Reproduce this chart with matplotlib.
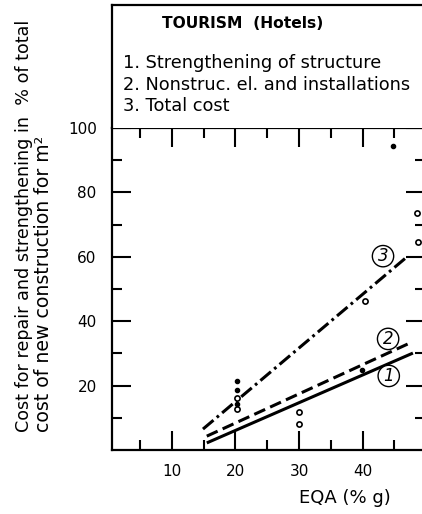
import matplotlib
matplotlib.use("Agg")
import matplotlib.pyplot as plt

plt.rcParams.update({
    "font.family": ["DejaVu Sans"],
    "font.size": 12,
})

# Fitted lines (EQA in % g, cost in % of new construction)
line1_x = [15.5, 47.9]
line1_y = [2.2, 30.1]
line2_x = [15.5, 47.4]
line2_y = [4.3, 33.2]
line3_x = [14.9, 47.1]
line3_y = [6.5, 60.2]

# Observed points
open_x = [20.2, 20.2, 30.0, 30.0, 40.3, 48.6, 48.7]
open_y = [16.1, 12.7, 11.8, 8.1, 46.3, 73.6, 64.6]
dot_x = [20.2, 20.2, 20.2, 39.9, 44.7]
dot_y = [21.4, 18.6, 14.3, 24.8, 94.5]

labels = ["1", "2", "3"]
label_x = [44.1, 44.0, 43.2]
label_y = [23.0, 34.5, 60.2]

legend_lines = ["1. Strengthening of structure",
                "2. Nonstruc. el. and installations",
                "3. Total cost"]

W, H = 422, 514
fig = plt.figure(figsize=(W / 100, H / 100), dpi=100)

left, right = 112, 425
ax = fig.add_axes([left / W, (H - 450) / H, (right - left) / W, 322 / H])
hdr = fig.add_axes([left / W, (H - 128) / H, (right - left) / W, 123 / H])

lw = 2.2
ax.plot(line1_x, line1_y, color="black", lw=lw, solid_capstyle="butt")
ax.plot(line2_x, line2_y, color="black", lw=lw, ls=(0, (3.9, 1.8)))
ax.plot(line3_x, line3_y, color="black", lw=lw, ls=(0, (4.5, 1.4, 0.9, 1.4)))

ax.scatter(open_x, open_y, s=14, facecolor="white", edgecolor="black",
           linewidth=1.2, zorder=3)
ax.scatter(dot_x, dot_y, s=9, color="black", zorder=3)

for t, x, y in zip(labels, label_x, label_y):
    ax.text(x, y, t, ha="center", va="center", fontsize=12, style="italic",
            bbox=dict(boxstyle="circle,pad=0.1", fc="white", ec="black", lw=1.0))

ax.set_xlim(0.6, 49.8)
ax.set_ylim(0, 100)
ax.set_xticks([10, 20, 30, 40])
ax.set_xticks([5, 15, 25, 35, 45], minor=True)
ax.set_yticks([20, 40, 60, 80, 100])
ax.set_yticks([10, 30, 50, 70, 90], minor=True)
ax.tick_params(which="both", direction="in", top=True, right=True, width=1.5,
               labelsize=11)
ax.tick_params(which="major", length=14)
ax.tick_params(which="minor", length=7)
ax.tick_params(axis="x", pad=10)
ax.tick_params(axis="y", pad=11)
for s in ax.spines.values():
    s.set_linewidth(1.6)

hdr.set_xlim(0, 1)
hdr.set_ylim(0, 1)
hdr.set_xticks([])
hdr.set_yticks([])
hdr.spines["right"].set_visible(False)
hdr.spines["bottom"].set_visible(False)
for s in ("left", "top"):
    hdr.spines[s].set_linewidth(1.6)
hdr.text(0.418, 0.846, "TOURISM  (Hotels)", ha="center", va="center",
         fontsize=11.2, fontweight="bold")
for i, t in enumerate(legend_lines):
    hdr.text(0.035, 0.528 - i * 0.175, t, ha="left", va="center", fontsize=12.8)

fig.text(345 / W, 1 - 498 / H, "EQA (% g)", ha="center", va="center", fontsize=13)
fig.text(24 / W, (H - 432) / H, "Cost for repair and strengthening in  % of total",
         rotation=90, ha="center", va="bottom", fontsize=12.6)
fig.text(44 / W, (H - 432) / H, "cost of new construction for m²",
         rotation=90, ha="center", va="bottom", fontsize=13.6)

fig.savefig("out.png", dpi=100)
